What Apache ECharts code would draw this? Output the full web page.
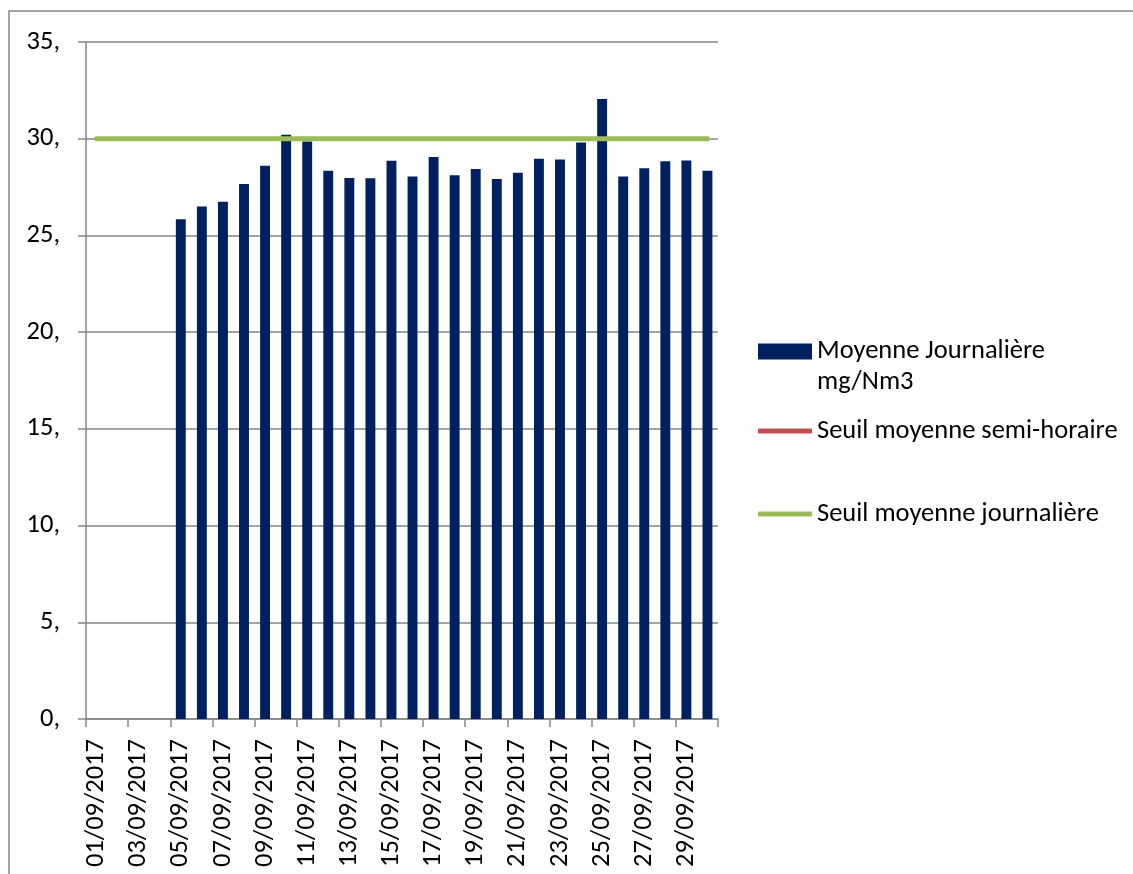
<!DOCTYPE html>
<html>
<head>
<meta charset="utf-8">
<script src="https://cdn.jsdelivr.net/npm/echarts@6/dist/echarts.min.js"></script>
<style>
html,body{margin:0;padding:0;background:#fff;}
#chart{width:1133px;height:874px;}
</style>
</head>
<body>
<div id="chart"></div>
<script>
const categories = ["01/09/2017","02/09/2017","03/09/2017","04/09/2017","05/09/2017","06/09/2017","07/09/2017","08/09/2017","09/09/2017","10/09/2017","11/09/2017","12/09/2017","13/09/2017","14/09/2017","15/09/2017","16/09/2017","17/09/2017","18/09/2017","19/09/2017","20/09/2017","21/09/2017","22/09/2017","23/09/2017","24/09/2017","25/09/2017","26/09/2017","27/09/2017","28/09/2017","29/09/2017","30/09/2017"];
const moyenneJournaliere = [null,null,null,null,25.83,26.50,26.74,27.66,28.60,30.21,29.85,28.35,27.97,27.95,28.86,28.05,29.05,28.11,28.43,27.92,28.24,28.97,28.93,29.81,32.05,28.05,28.47,28.83,28.88,28.35];
const seuilSemiHoraire = [60,60,60,60,60,60,60,60,60,60,60,60,60,60,60,60,60,60,60,60,60,60,60,60,60,60,60,60,60,60];
const seuilJournaliere = [30,30,30,30,30,30,30,30,30,30,30,30,30,30,30,30,30,30,30,30,30,30,30,30,30,30,30,30,30,30];
const yTicks = [0,5,10,15,20,25,30,35];

const FONT = 'Carlito, Lato, sans-serif';
const GRAY = '#868686';
const LEG_FS = 26.5;
const chart = echarts.init(document.getElementById('chart'), null, {renderer:'canvas'});
chart.setOption({
  animation:false,
  backgroundColor:'#fff',
  graphic:[{type:'rect',shape:{x:9,y:11,width:1200,height:1000},style:{fill:'none',stroke:GRAY,lineWidth:1.5},silent:true}],
  grid:{left:86,top:42,right:415,bottom:155,containLabel:false},
  xAxis:{
    type:'category',data:categories,boundaryGap:true,
    axisLine:{lineStyle:{color:GRAY,width:1.5}},
    axisTick:{show:true,interval:1,length:8,lineStyle:{color:GRAY,width:1.5}},
    axisLabel:{interval:1,rotate:90,margin:20,color:'#000',fontFamily:FONT,fontSize:26.5}
  },
  yAxis:{
    type:'value',min:yTicks[0],max:yTicks[yTicks.length-1],interval:5,
    axisLine:{show:true,lineStyle:{color:GRAY,width:1.5}},
    axisTick:{show:true,length:8,lineStyle:{color:GRAY,width:1.5}},
    splitLine:{show:true,lineStyle:{color:GRAY,width:1.5}},
    axisLabel:{formatter:v=>v+',',margin:26,color:'#000',fontFamily:FONT,fontSize:26.5}
  },
  legend:[
    {orient:'vertical',left:758,top:305,padding:0,itemWidth:54,itemHeight:16,itemGap:0,
     data:[{name:'Moyenne Journalière mg/Nm3',icon:'rect'}],
     formatter:()=>'\nMoyenne Journalière\nmg/Nm3',
     textStyle:{fontFamily:FONT,fontSize:LEG_FS,color:'#000',lineHeight:31}},
    {orient:'vertical',left:758,top:415,padding:0,itemWidth:54,itemHeight:5,
     data:[{name:'Seuil moyenne semi-horaire',icon:'roundRect'}],
     textStyle:{fontFamily:FONT,fontSize:LEG_FS,color:'#000',lineHeight:32}},
    {orient:'vertical',left:758,top:498,padding:0,itemWidth:54,itemHeight:5,
     data:[{name:'Seuil moyenne journalière',icon:'roundRect'}],
     textStyle:{fontFamily:FONT,fontSize:LEG_FS,color:'#000',lineHeight:32}}
  ],
  series:[
    {name:'Moyenne Journalière mg/Nm3',type:'bar',data:moyenneJournaliere,barWidth:'47%',
     itemStyle:{color:'#002060'}},
    {name:'Seuil moyenne semi-horaire',type:'line',data:seuilSemiHoraire,symbol:'none',clip:true,
     lineStyle:{color:'#C0504D',width:5,cap:'round'},itemStyle:{color:'#C0504D'}},
    {name:'Seuil moyenne journalière',type:'line',data:seuilJournaliere,symbol:'none',
     lineStyle:{color:'#9BBB59',width:5,cap:'round'},itemStyle:{color:'#9BBB59'}}
  ]
});
</script>
</body>
</html>
